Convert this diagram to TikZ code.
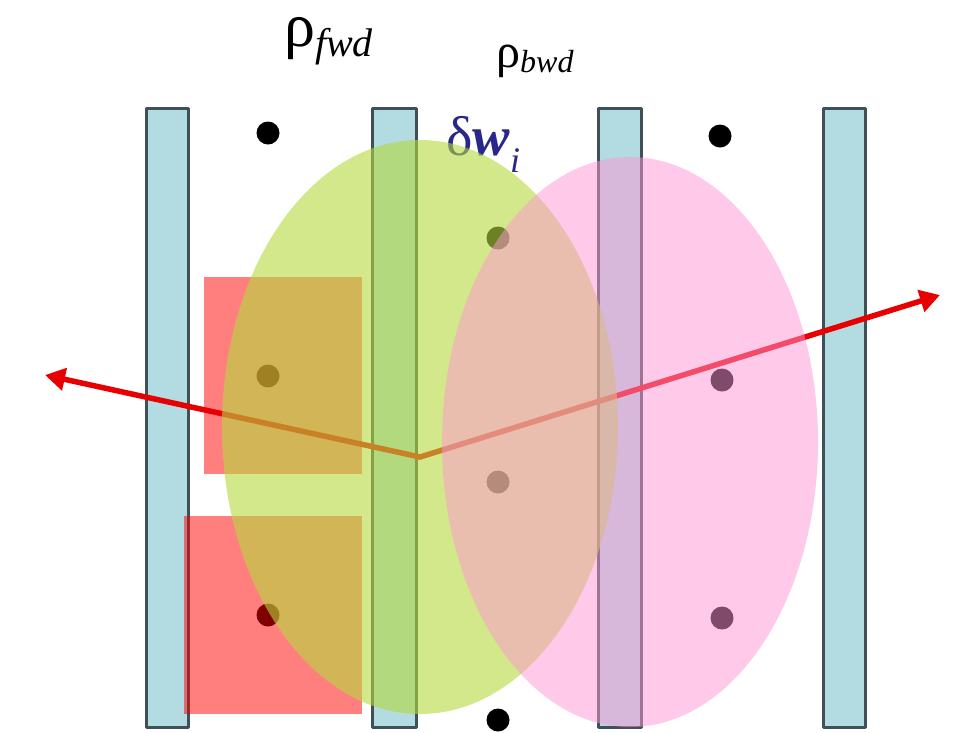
\documentclass[tikz,border=0pt]{standalone}
\usepackage{fontspec}
\setmainfont{Liberation Serif}
\usepackage{xcolor}
\usetikzlibrary{arrows.meta}

\definecolor{barblue}{RGB}{178,220,226}
\definecolor{bargray}{RGB}{64,80,88}
\definecolor{leafgreen}{RGB}{180,216,60}
\definecolor{rosepink}{RGB}{255,150,212}
\definecolor{navytext}{RGB}{40,40,140}

\tikzset{
  barbox/.style={draw=bargray, fill=barblue, line width=3pt},
  sample/.style={fill=black},
  cellbox/.style={fill=red, fill opacity=0.5},
  ray/.style={draw={rgb,255:red,232;green,0;blue,0}, line width=5.5pt,
              -{Triangle[length=20pt,width=22pt]}},
}

\begin{document}
\begin{tikzpicture}[x=1pt, y=-1pt, line cap=round, line join=round]

\useasboundingbox (0,0) rectangle (979,732);

% ---------------------------------------------------------
% Key points
% ---------------------------------------------------------
\coordinate (C) at (420,457);    % hit point of the rays
\coordinate (L) at (45,375);     % left ray end
\coordinate (R) at (940,295);    % right ray end

% ---------------------------------------------------------
% Bars
% ---------------------------------------------------------
\foreach \xa/\xb in {146/188, 372/416, 598/641, 823/865}
  \draw[barbox] (\xa,108) rectangle (\xb,727);

% ---------------------------------------------------------
% Samples
% ---------------------------------------------------------
\foreach \px/\py in {268/133, 720/136, 498/720, 498/238, 268/376,
                     498/482, 268/615, 722/380, 722/618}
  \fill[sample] (\px,\py) circle (11.5);

% ---------------------------------------------------------
% Cells
% ---------------------------------------------------------
\fill[cellbox] (204,277) rectangle (362,474);
\fill[cellbox] (184,516) rectangle (362,714);

% ---------------------------------------------------------
% Labels
% ---------------------------------------------------------
\node[anchor=base west, inner sep=0pt, text height=32pt, font=\fontsize{62}{62}\selectfont]
  (rhofwd) at (284,46) {ρ\raisebox{-10pt}{\fontsize{40}{40}\selectfont\textit{fwd}}};
\node[anchor=base west, inner sep=0pt, font=\fontsize{48}{48}\selectfont]
  (rhobwd) at (496,67) {ρ\raisebox{-5pt}{\fontsize{32}{32}\selectfont\textit{bwd}}};
\node[anchor=base west, inner sep=0pt, text=navytext, font=\fontsize{56}{56}\selectfont]
  (dw) at (446,155) {δ\textbf{\textit{w}}\raisebox{-17pt}{\fontsize{36}{36}\selectfont\textit{i}}};

% ---------------------------------------------------------
% Rays
% ---------------------------------------------------------
\draw[ray] (C) -- (L);
\draw[ray] (C) -- (R);

% ---------------------------------------------------------
% Footprints
% ---------------------------------------------------------
\fill[leafgreen, fill opacity=0.6] (420,427) ellipse [x radius=198, y radius=287];
\fill[rosepink, fill opacity=0.5] (630,442) ellipse [x radius=188, y radius=285];

\end{tikzpicture}
\end{document}
